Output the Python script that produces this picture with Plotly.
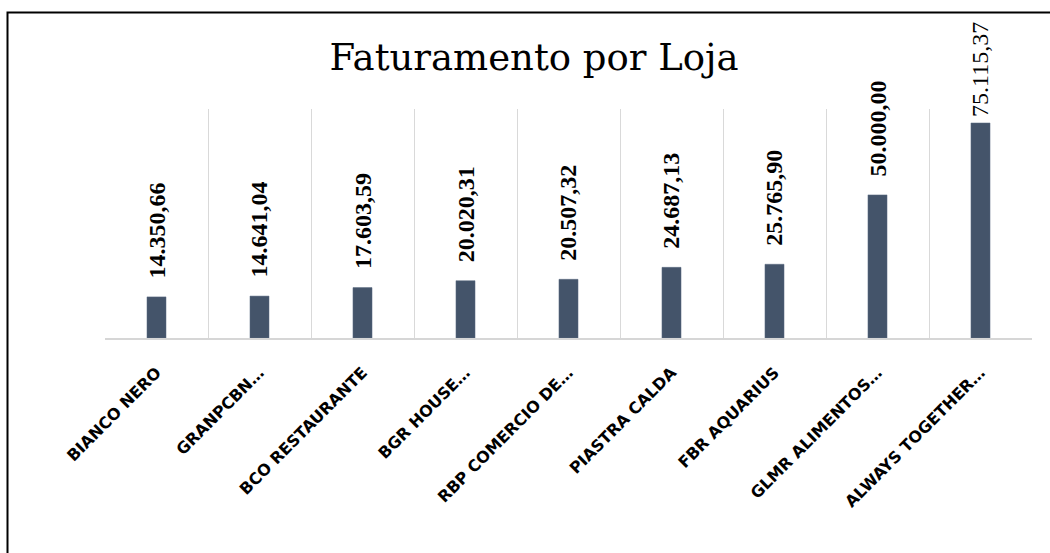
import plotly.graph_objects as go

lojas = ["BIANCO NERO", "GRANPCBN…", "BCO RESTAURANTE", "BGR HOUSE…",
         "RBP COMERCIO DE…", "PIASTRA CALDA", "FBR AQUARIUS",
         "GLMR ALIMENTOS…", "ALWAYS TOGETHER…"]
faturamento = [14350.66, 14641.04, 17603.59, 20020.31, 20507.32,
               24687.13, 25765.90, 50000.00, 75115.37]
rotulos = ["14.350,66", "14.641,04", "17.603,59", "20.020,31", "20.507,32",
           "24.687,13", "25.765,90", "50.000,00", "75.115,37"]

fig = go.Figure()
fig.add_trace(go.Bar(
    x=lojas, y=faturamento,
    marker=dict(color="#44546A", line=dict(color="#5B6B80", width=0.5)),
    width=0.185,
    hoverinfo="skip",
))

annotations = []
for i, (loja, val, lab) in enumerate(zip(lojas, faturamento, rotulos)):
    last = i == len(lojas) - 1
    annotations.append(dict(
        x=loja, y=val, xref="x", yref="y",
        text=lab, textangle=-90, showarrow=False,
        yanchor="bottom", xanchor="center",
        yshift=4 if last else 16,
        font=dict(family="Liberation Serif", size=24, color="#000000",
                  weight="normal" if last else "bold"),
    ))

fig.update_layout(
    width=1050, height=553,
    paper_bgcolor="white", plot_bgcolor="white",
    margin=dict(l=105, r=18, t=109, b=215, autoexpand=False),
    showlegend=False,
    bargap=0.5,
    title=dict(
        text="Faturamento por Loja",
        x=534 / 1050, xref="container", xanchor="center",
        y=1 - 57 / 553, yref="container", yanchor="middle",
        font=dict(family="DejaVu Serif", size=37, color="#000000"),
    ),
    annotations=annotations,
    xaxis=dict(
        type="category",
        tickson="boundaries",
        showgrid=True, gridcolor="#D9D9D9", gridwidth=1,
        showline=True, linecolor="#D6D6D6", linewidth=2,
        ticks="", tickangle=-45,
        ticklabelstandoff=17,
        tickfont=dict(family="DejaVu Sans", size=16, color="#000000", weight="bold"),
    ),
    yaxis=dict(
        range=[0, 80000],
        showgrid=False, zeroline=False, showticklabels=False,
        showline=False, ticks="",
    ),
    shapes=[dict(
        type="rect", xref="paper", yref="paper",
        x0=(7.5 - 105) / 927, x1=1.1,
        y0=-1.2, y1=1 + (109 - 12.5) / 229,
        line=dict(color="#000000", width=2), fillcolor="rgba(0,0,0,0)",
        layer="below",
    )],
)

fig.write_html("out.html", config={"displayModeBar": False},
               post_script="document.body.style.margin='0px';")
